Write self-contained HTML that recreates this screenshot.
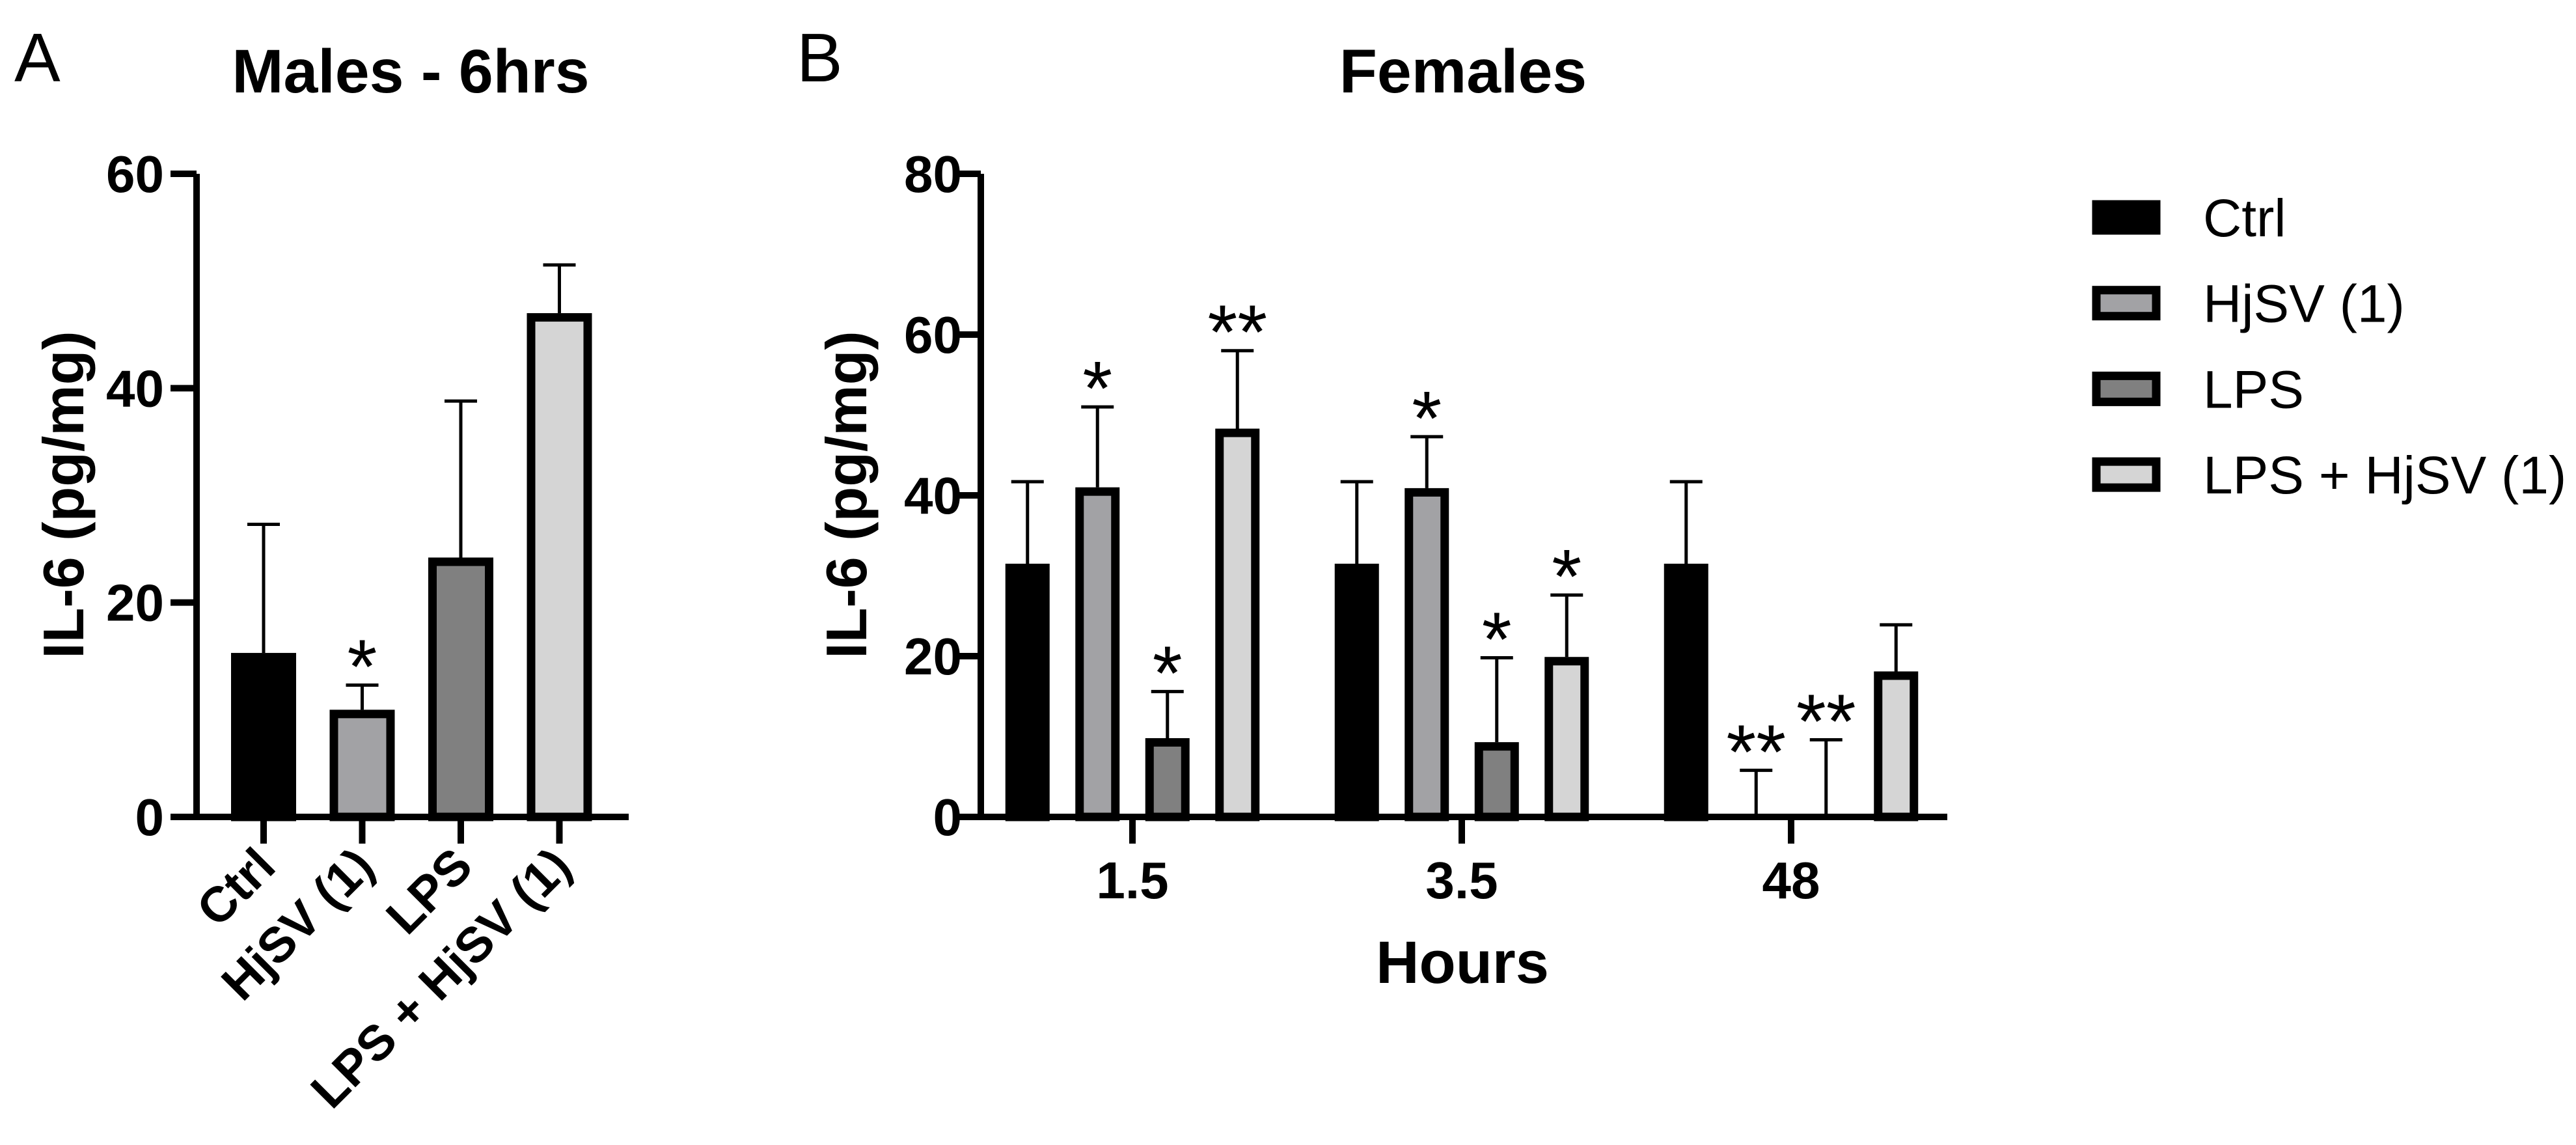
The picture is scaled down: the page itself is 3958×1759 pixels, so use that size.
<!DOCTYPE html>
<html><head><meta charset="utf-8"><style>
html,body{margin:0;padding:0;background:#fff;}
svg{display:block;font-family:"Liberation Sans",Arial,sans-serif;}
</style></head><body>
<svg id="chart" width="3958" height="1759" viewBox="0 0 3958 1759" xmlns="http://www.w3.org/2000/svg">
<text x="22" y="125" font-size="106">A</text>
<text x="631" y="142" font-size="95" font-weight="bold" text-anchor="middle">Males - 6hrs</text>
<text x="1224" y="125" font-size="106">B</text>
<text x="2248" y="142" font-size="95" font-weight="bold" text-anchor="middle">Females</text>
<text transform="translate(128,760) rotate(-90)" font-size="88" font-weight="bold" text-anchor="middle">IL-6 (pg/mg)</text>
<text transform="translate(1331,760) rotate(-90)" font-size="88" font-weight="bold" text-anchor="middle">IL-6 (pg/mg)</text>
<text x="2247" y="1510" font-size="92" font-weight="bold" text-anchor="middle">Hours</text>
<g id="gA"></g>
<g id="gB"></g>
<g id="legend"></g>
</svg>
<script>
// Panel A data
const catsA = ["Ctrl", "HjSV (1)", "LPS", "LPS + HjSV (1)"];
const valsA = [15.3, 10, 24.2, 47];
const errA = [27.3, 12.3, 38.8, 51.5];
const starsA = ["", "*", "", ""];
const ticksA = [0, 20, 40, 60];
// Panel B data
const groupsB = ["1.5", "3.5", "48"];
const seriesB = ["Ctrl", "HjSV (1)", "LPS", "LPS + HjSV (1)"];
const ctrlB = [31.5, 31.5, 31.5];
const hjsvB = [41, 40.9, 0];
const lpsB = [9.8, 9.3, 0];
const lpsHjsvB = [48.3, 19.9, 18.1];
const ctrlErrB = [41.7, 41.7, 41.7];
const hjsvErrB = [51, 47.3, 5.8];
const lpsErrB = [15.6, 19.8, 9.6];
const lpsHjsvErrB = [58, 27.6, 23.9];
const ctrlStarB = ["", "", ""];
const hjsvStarB = ["*", "*", "**"];
const lpsStarB = ["*", "*", "**"];
const lpsHjsvStarB = ["**", "*", ""];
const ticksB = [0, 20, 40, 60, 80];

const NS = "http://www.w3.org/2000/svg";
const fills = ["#000000", "#a2a2a5", "#808080", "#d5d5d5"];
function mk(parent, tag, attrs) {
  const e = document.createElementNS(NS, tag);
  for (const k in attrs) e.setAttribute(k, attrs[k]);
  parent.appendChild(e);
  return e;
}
function drawBar(g, cx, w, v, err, star, fill, y, name) {
  const y0 = y(0), yv = y(v), ye = y(err);
  const eb = mk(g, "line", {x1: cx, x2: cx, y1: yv, y2: ye, stroke: "#000", "stroke-width": 5});
  
  
  const cap = mk(g, "line", {x1: cx - 25, x2: cx + 25, y1: ye, y2: ye, stroke: "#000", "stroke-width": 5});
  
  
  if (v > 0) {
    const r = mk(g, "rect", {x: cx - w / 2 + 6.5, y: yv + 6.5, width: w - 13, height: Math.max(0, y0 - yv - 6.5), fill: fill, stroke: "#000", "stroke-width": 13});
    
    
  }
  if (star) {
    const t = mk(g, "text", {x: cx, y: ye + 12, "font-size": 118, "text-anchor": "middle"});
    t.textContent = star;
    
    
  }
}

// Panel A
(function () {
  const g = document.getElementById("gA");
  const y = v => 1255 - v * (1255 - 267) / 60;
  const x = i => 405 + i * 151.5;
  const ax = 302;
  catsA.forEach((c, i) => drawBar(g, x(i), 100, valsA[i], errA[i], starsA[i], fills[i], y, "bar-a-" + i));
  const yl = mk(g, "line", {x1: ax, x2: ax, y1: y(60), y2: y(0) + 5, stroke: "#000", "stroke-width": 10});
  
  
  const xl = mk(g, "line", {x1: 262, x2: 966, y1: y(0), y2: y(0), stroke: "#000", "stroke-width": 10});
  
  
  ticksA.forEach(t => {
    const tl = mk(g, "line", {x1: 262, x2: ax, y1: y(t), y2: y(t), stroke: "#000", "stroke-width": 10});
    
    
    const tx = mk(g, "text", {x: 252, y: y(t) + 28, "font-size": 80, "font-weight": "bold", "text-anchor": "end"});
    tx.textContent = t;
    
    
  });
  catsA.forEach((c, i) => {
    const tl = mk(g, "line", {x1: x(i), x2: x(i), y1: y(0), y2: 1296, stroke: "#000", "stroke-width": 10});
    
    
    const tx = mk(g, "text", {transform: "translate(" + (x(i) + 22) + ",1335) rotate(-45)", "font-size": 76, "font-weight": "bold", "text-anchor": "end"});
    tx.textContent = c;
    
    
  });
})();

// Panel B
(function () {
  const g = document.getElementById("gB");
  const y = v => 1255 - v * (1255 - 267) / 80;
  const gc = i => 1740 + i * 506;
  const ax = 1507;
  const vals = [ctrlB, hjsvB, lpsB, lpsHjsvB];
  const errs = [ctrlErrB, hjsvErrB, lpsErrB, lpsHjsvErrB];
  const stars = [ctrlStarB, hjsvStarB, lpsStarB, lpsHjsvStarB];
  groupsB.forEach((grp, gi) => {
    seriesB.forEach((s, si) => {
      drawBar(g, gc(gi) + (si - 1.5) * 107.5, 68, vals[si][gi], errs[si][gi], stars[si][gi], fills[si], y, "bar-b-" + gi + "-" + si);
    });
  });
  const yl = mk(g, "line", {x1: ax, x2: ax, y1: y(80), y2: y(0) + 5, stroke: "#000", "stroke-width": 10});
  
  
  const xl = mk(g, "line", {x1: 1467, x2: 2992, y1: y(0), y2: y(0), stroke: "#000", "stroke-width": 10});
  
  
  ticksB.forEach(t => {
    const tl = mk(g, "line", {x1: 1467, x2: ax, y1: y(t), y2: y(t), stroke: "#000", "stroke-width": 10});
    
    
    const tx = mk(g, "text", {x: 1478, y: y(t) + 28, "font-size": 80, "font-weight": "bold", "text-anchor": "end"});
    tx.textContent = t;
    
    
  });
  groupsB.forEach((grp, gi) => {
    const tl = mk(g, "line", {x1: gc(gi), x2: gc(gi), y1: y(0), y2: 1296, stroke: "#000", "stroke-width": 10});
    
    
    const tx = mk(g, "text", {x: gc(gi), y: 1380, "font-size": 80, "font-weight": "bold", "text-anchor": "middle"});
    tx.textContent = grp;
    
    
  });
})();

// Legend
(function () {
  const g = document.getElementById("legend");
  seriesB.forEach((s, i) => {
    const cy = 334 + i * 131.7;
    const r = mk(g, "rect", {x: 3221, y: cy - 20, width: 92, height: 40, fill: fills[i], stroke: "#000", "stroke-width": 13});
    
    
    const t = mk(g, "text", {x: 3385, y: cy + 29, "font-size": 82});
    t.textContent = s;
    
    
  });
})();
</script>
</body></html>
